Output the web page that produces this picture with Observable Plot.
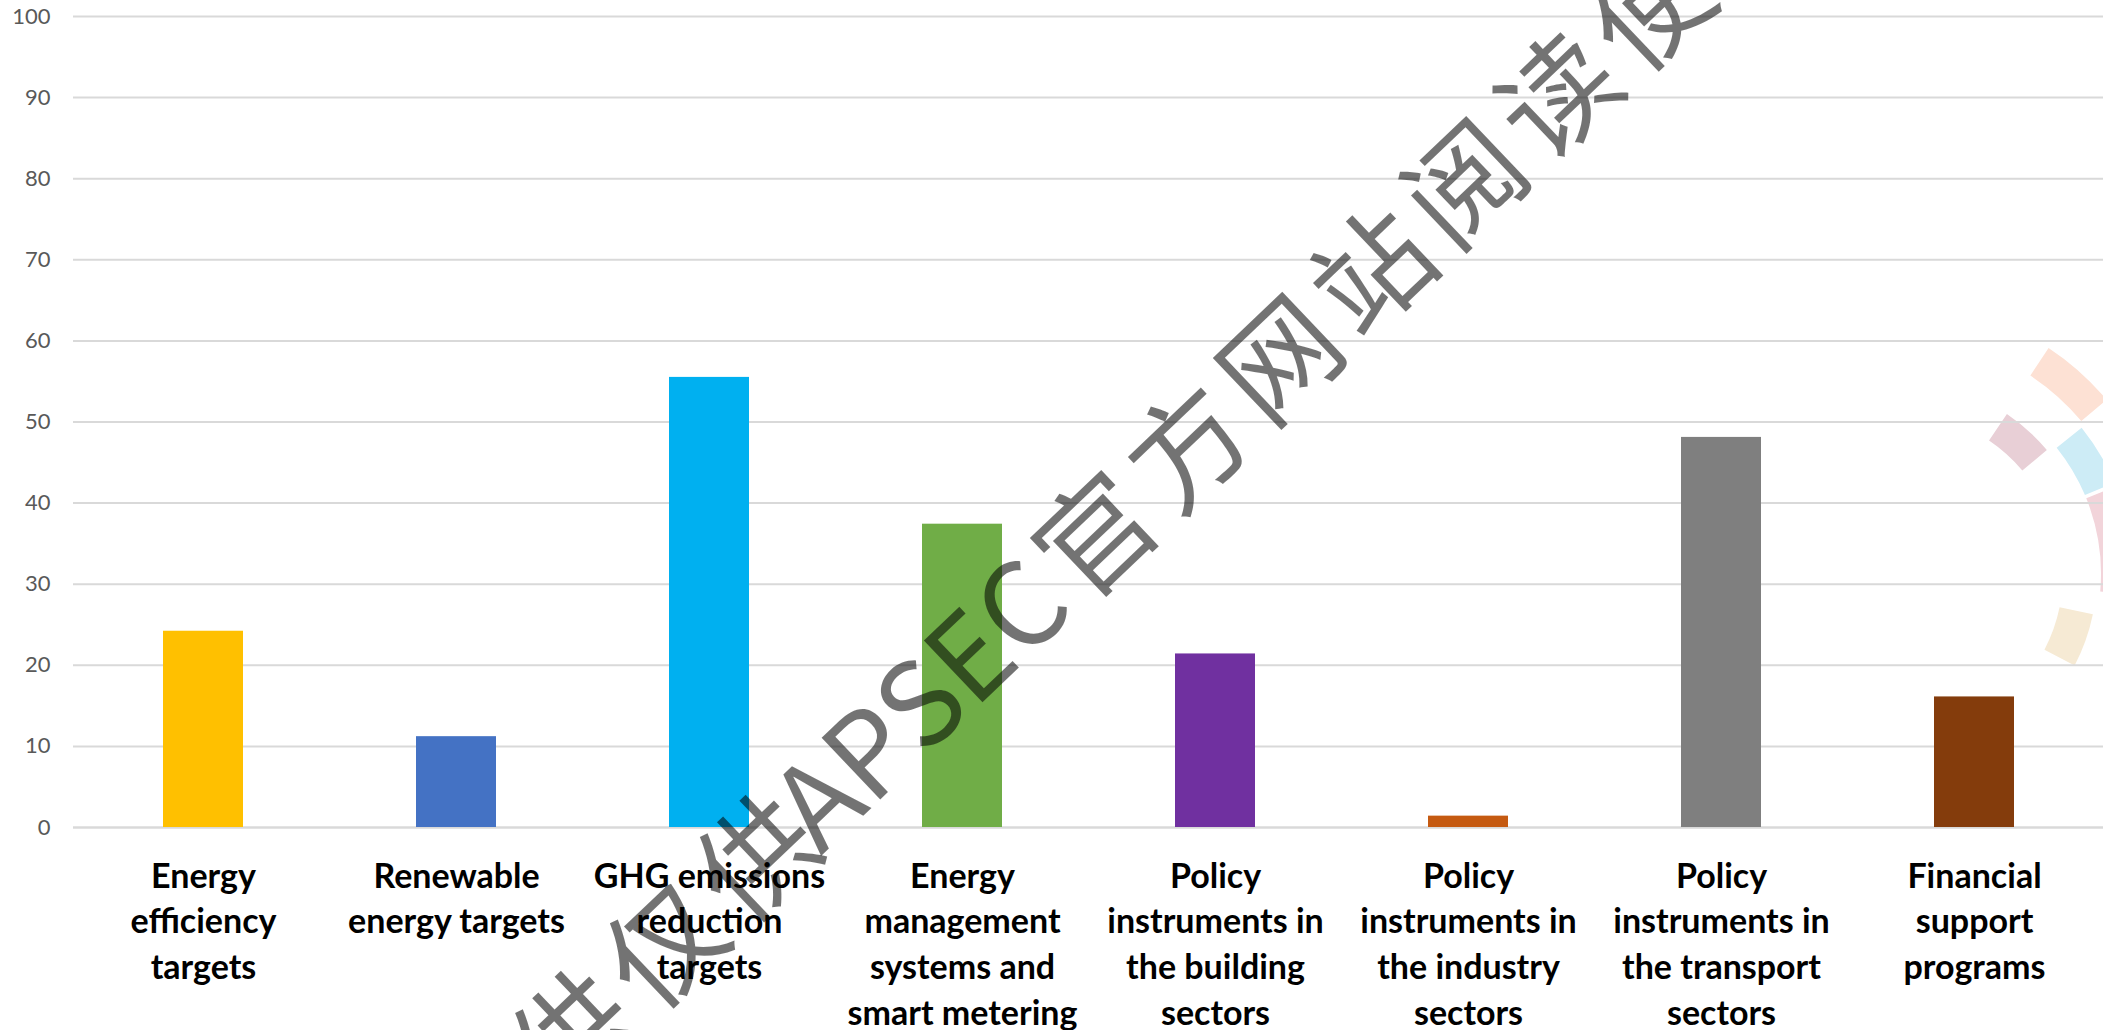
<!DOCTYPE html>
<html>
<head>
<meta charset="utf-8">
<script src="https://cdn.jsdelivr.net/npm/d3@7"></script>
<script src="https://cdn.jsdelivr.net/npm/@observablehq/plot@0.6"></script>
<style>
  html, body { margin: 0; padding: 0; background: #ffffff; overflow: hidden; }
  #chart svg { display: block; }
</style>
</head>
<body>
<div id="chart"></div>
<script>
// ---- data ----
const categories = [
  "Energy efficiency targets",
  "Renewable energy targets",
  "GHG emissions reduction targets",
  "Energy management systems and smart metering",
  "Policy instruments in the building sectors",
  "Policy instruments in the industry sectors",
  "Policy instruments in the transport sectors",
  "Financial support programs"
];
const tickLabels = [
  "Energy\nefficiency\ntargets",
  "Renewable\nenergy targets",
  "GHG emissions\nreduction\ntargets",
  "Energy\nmanagement\nsystems and\nsmart metering",
  "Policy\ninstruments in\nthe building\nsectors",
  "Policy\ninstruments in\nthe industry\nsectors",
  "Policy\ninstruments in\nthe transport\nsectors",
  "Financial\nsupport\nprograms"
];
const values = [24.2, 11.2, 55.5, 37.4, 21.4, 1.4, 48.1, 16.1];
const barColors = ["#FFC000", "#4472C4", "#00B0F0", "#70AD47", "#7030A0", "#C55A11", "#7F7F7F", "#843C0C"];
const yTicks = [0, 10, 20, 30, 40, 50, 60, 70, 80, 90, 100];

// ---- decoration (watermark) ----
const watermarkLeadCJK = "供仅供";
const watermarkLeadLatin = "APSEC";
const watermarkTail = "官方网站阅读使用";
const logoCenter = [1899, 574];
const logoArcs = [
  {color: "#FDE1D4", r0: 238, r1: 271, a0: 33.5, a1: 50},
  {color: "#E8CFD6", r0: 161, r1: 193, a0: 34, a1: 50},
  {color: "#CDECF6", r0: 202, r1: 234, a0: 51.3, a1: 67},
  {color: "#F2D4DA", r0: 202, r1: 234, a0: 68, a1: 95},
  {color: "#F6EAD4", r0: 164, r1: 198, a0: 101.7, a1: 117.5}
];

const data = categories.map((c, i) => ({category: c, value: values[i]}));
const labelOf = new Map(categories.map((c, i) => [c, tickLabels[i]]));

const xFont = 34;
const chart = Plot.plot({
  width: 2103,
  height: 1030,
  marginLeft: 73,
  marginRight: 0,
  marginTop: 16,
  marginBottom: 203,
  style: {fontFamily: "Lato, 'Open Sans', sans-serif", background: "transparent", overflow: "visible"},
  x: {domain: categories, paddingInner: 0.685, paddingOuter: 0.3425, label: null},
  y: {domain: [0, 100], label: null},
  color: {domain: categories, range: barColors},
  marks: [
    Plot.gridY(yTicks, {stroke: "#d9d9d9", strokeOpacity: 1, strokeWidth: 2}),
    Plot.ruleY([0], {stroke: "#d9d9d9", strokeWidth: 2}),
    Plot.barY(data, {x: "category", y: "value", fill: "category"}),
    Plot.axisY(yTicks, {tickSize: 0, tickPadding: 23, fontSize: 22, color: "#595959", label: null}),
    Plot.axisX({
      tickSize: 0, tickPadding: 52 - 0.71 * xFont, fontSize: xFont, fontWeight: "bold",
      color: "#000000", lineHeight: 45.6 / xFont, label: null,
      tickFormat: c => labelOf.get(c)
    })
  ]
});
document.getElementById("chart").appendChild(chart);

const svg = d3.select(chart);
// faded logo behind everything
const logo = svg.insert("g", ":first-child")
  .attr("transform", `translate(${logoCenter[0]},${logoCenter[1]})`);
const arcGen = d3.arc();
logo.selectAll("path").data(logoArcs).join("path")
  .attr("fill", d => d.color)
  .attr("d", d => arcGen({innerRadius: d.r0, outerRadius: d.r1,
    startAngle: d.a0 * Math.PI / 180, endAngle: d.a1 * Math.PI / 180}));

// diagonal watermark on top
const wm = svg.append("g")
  .attr("transform", "translate(1077.2,612) rotate(-43.6)")
  .attr("font-family", "'Noto Sans CJK SC', sans-serif")
  .attr("font-size", 116)
  .attr("fill", "#000000")
  .attr("fill-opacity", 0.55);
const lead = wm.append("text").attr("text-anchor", "end");
lead.append("tspan").style("letter-spacing", "11.6px").text(watermarkLeadCJK);
lead.append("tspan").attr("dx", -22).style("letter-spacing", "0px").text(watermarkLeadLatin);
wm.append("text").attr("text-anchor", "start").attr("x", 8)
  .style("letter-spacing", "11.6px").text(watermarkTail);
</script>
</body>
</html>
